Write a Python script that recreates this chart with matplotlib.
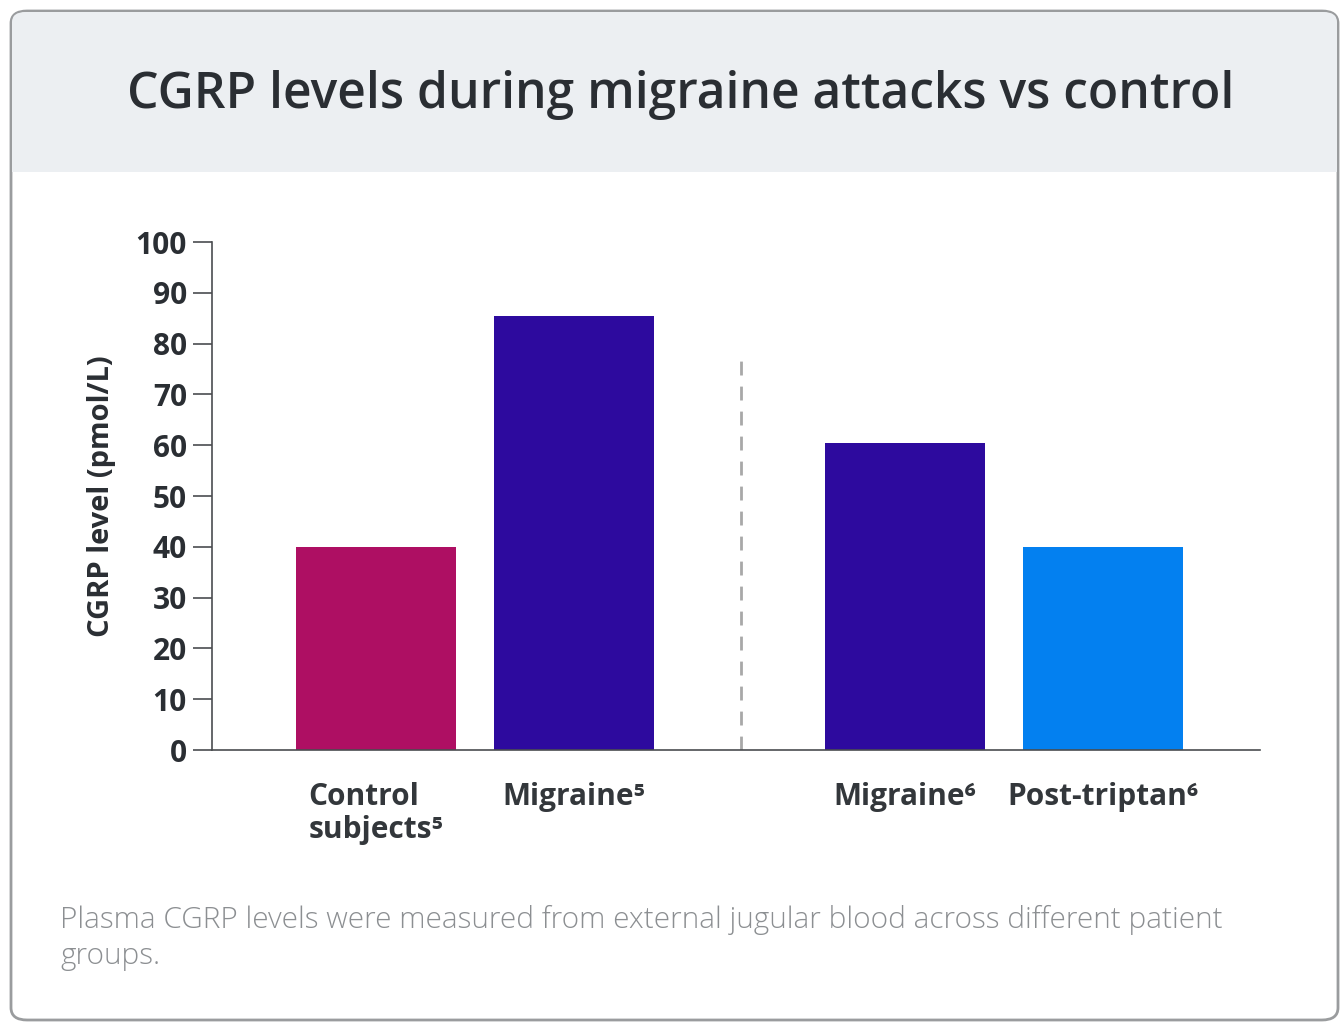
import matplotlib.pyplot as plt
from matplotlib.patches import FancyBboxPatch, Rectangle

# values in pmol/L
groups = ["Control\nsubjects\u2075", "Migraine\u2075", "Migraine\u2076", "Post-triptan\u2076"]
cgrp = [40, 85.5, 60.5, 40]
bar_colors = ["#ae0f63", "#2d0a9e", "#2d0a9e", "#0380f0"]
positions = [0, 1, 2.672, 3.672]
yticks = [0, 10, 20, 30, 40, 50, 60, 70, 80, 90, 100]

title = "CGRP levels during migraine attacks vs control"
ylabel = "CGRP level (pmol/L)"
note = ("Plasma CGRP levels were measured from external jugular blood across different patient\n"
        "groups.")

plt.rcParams['font.family'] = ['Open Sans', 'DejaVu Sans']

W, H = 1342, 1023
fig = plt.figure(figsize=(W / 100, H / 100), dpi=100)
fig.patch.set_facecolor("white")

# card with grey header strip
def px(x, y):
    return x / W, 1 - y / H

card = FancyBboxPatch(px(11, 1020), (1338 - 11) / W, (1020 - 11) / H,
                      boxstyle="round,pad=0,rounding_size=0.012",
                      transform=fig.transFigure, facecolor="white",
                      edgecolor="#9a9c9e", linewidth=2.0, zorder=-3)
fig.patches.append(card)
header = FancyBboxPatch(px(12, 172), (1337 - 12) / W, (172 - 12) / H,
                        boxstyle="round,pad=0,rounding_size=0.01",
                        transform=fig.transFigure, facecolor="#eceff2",
                        edgecolor="none", zorder=-2)
fig.patches.append(header)
fig.patches.append(Rectangle(px(12, 172), (1337 - 12) / W, 40 / H,
                             transform=fig.transFigure, facecolor="#eceff2",
                             edgecolor="none", zorder=-2))

fig.text(681 / W, 1 - 95 / H, title, ha="center", va="center",
         fontsize=35.8, fontweight="semibold", color="#2a2e33")

ax = fig.add_axes([212 / W, 1 - 750 / H, (1260 - 212) / W, (750 - 242) / H])
ax.set_facecolor("none")
ax.bar(positions, cgrp, width=0.808, color=bar_colors, zorder=2)

ax.set_xlim(-0.828, 4.465)
ax.set_ylim(0, 100)
ax.set_yticks(yticks)
ax.set_yticklabels([str(t) for t in yticks], fontsize=21.5, fontweight="bold", color="#2a2e33")
ax.tick_params(axis="y", length=14, width=1.2, color="#4a4d50", pad=4)
ax.tick_params(axis="x", length=0, labelbottom=False)
for s in ["top", "right"]:
    ax.spines[s].set_visible(False)
ax.spines["left"].set_color("#4a4d50")
ax.spines["bottom"].set_color("#4a4d50")
ax.spines["left"].set_linewidth(1.2)
ax.spines["bottom"].set_linewidth(1.2)

# dashed separator between the two studies
ax.vlines(1.843, 0, 77, colors="#a8a8a8", linestyles=(0, (5, 4)), linewidth=2, zorder=1)

ax.set_ylabel(ylabel, fontsize=21, fontweight="bold", color="#2a2e33", labelpad=14)

# category labels under the bars
for xpos, lab in zip(positions, groups):
    ax.annotate(lab, xy=(xpos, 0), xycoords="data", xytext=(0, -23),
                textcoords="offset points", ha="center", va="top",
                multialignment="left", fontsize=21.5, fontweight="bold",
                color="#33373b", linespacing=1.12)

fig.text(60 / W, 1 - 938 / H, note, ha="left", va="center", fontsize=21.4,
         fontweight="light", color="#8c8f92", linespacing=1.3)

fig.savefig("out.png", dpi=100, facecolor="white")
